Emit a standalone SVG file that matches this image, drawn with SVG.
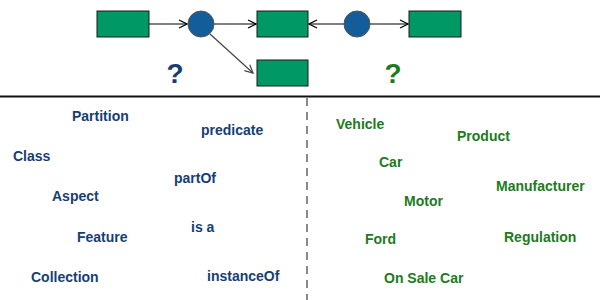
<svg xmlns="http://www.w3.org/2000/svg" width="600" height="300" viewBox="0 0 600 300">
<style>
.box{fill:#009966;stroke:#1a1a1a;stroke-width:1}
.dot{fill:#135e9a;stroke:#555;stroke-width:1}
.edge{fill:none;stroke:#000;stroke-width:1.2}
.diag{fill:none;stroke:#444;stroke-width:1.2}
.t{font-family:"Liberation Sans",Arial,sans-serif;font-weight:bold;font-size:14px}
.b{fill:#163e73}
.g{fill:#1d7a1d}
.q{font-family:"Liberation Sans",Arial,sans-serif;font-weight:bold;font-size:28px;text-anchor:middle}
</style>
<defs>
<marker id="open" viewBox="0 0 10 10" refX="9" refY="5" markerWidth="10" markerHeight="10" markerUnits="userSpaceOnUse" orient="auto">
<path d="M1,1 L9,5 L1,9" fill="none" stroke="#000" stroke-width="1.2"/>
</marker>
<marker id="openg" viewBox="0 0 10 10" refX="9" refY="5" markerWidth="10" markerHeight="10" markerUnits="userSpaceOnUse" orient="auto">
<path d="M1,1 L9,5 L1,9" fill="none" stroke="#444" stroke-width="1.2"/>
</marker>
</defs>
<rect width="600" height="300" fill="#fff"/>
<g id="connectors">
<line class="edge" x1="149" y1="24" x2="187" y2="24" marker-end="url(#open)"/>
<line class="edge" x1="214" y1="24" x2="256" y2="24" marker-end="url(#open)"/>
<line class="edge" x1="344" y1="24" x2="309" y2="24" marker-end="url(#open)"/>
<line class="edge" x1="370" y1="24" x2="408" y2="24" marker-end="url(#open)"/>
<line class="diag" x1="210" y1="34" x2="253" y2="73" marker-end="url(#openg)"/>
</g>
<g id="node-r1"><rect class="box" x="97" y="11" width="52" height="26"/></g>
<g id="node-c1"><circle class="dot" cx="201" cy="24" r="13"/></g>
<g id="node-r2"><rect class="box" x="257" y="11" width="51" height="26"/></g>
<g id="node-r4"><rect class="box" x="257" y="60" width="51" height="26"/></g>
<g id="node-c2"><circle class="dot" cx="357" cy="24" r="13"/></g>
<g id="node-r3"><rect class="box" x="409" y="11" width="52" height="26"/></g>
<text class="q b" x="175" y="83">?</text>
<text class="q g" x="393" y="83">?</text>
<line x1="0" y1="96.5" x2="600" y2="96.5" stroke="#111" stroke-width="2"/>
<line x1="307" y1="98" x2="307" y2="300" stroke="#8a8a8a" stroke-width="2" stroke-dasharray="8,6"/>
<g class="t b">
<text x="72" y="121">Partition</text>
<text x="201" y="135">predicate</text>
<text x="13" y="161">Class</text>
<text x="174" y="183">partOf</text>
<text x="52" y="201">Aspect</text>
<text x="191" y="232">is a</text>
<text x="77" y="242">Feature</text>
<text x="31" y="282">Collection</text>
<text x="207" y="281">instanceOf</text>
</g>
<g class="t g">
<text x="336" y="129">Vehicle</text>
<text x="457" y="141">Product</text>
<text x="379" y="167">Car</text>
<text x="496" y="191">Manufacturer</text>
<text x="404" y="206">Motor</text>
<text x="365" y="244">Ford</text>
<text x="504" y="242">Regulation</text>
<text x="384" y="283">On Sale Car</text>
</g>
</svg>
